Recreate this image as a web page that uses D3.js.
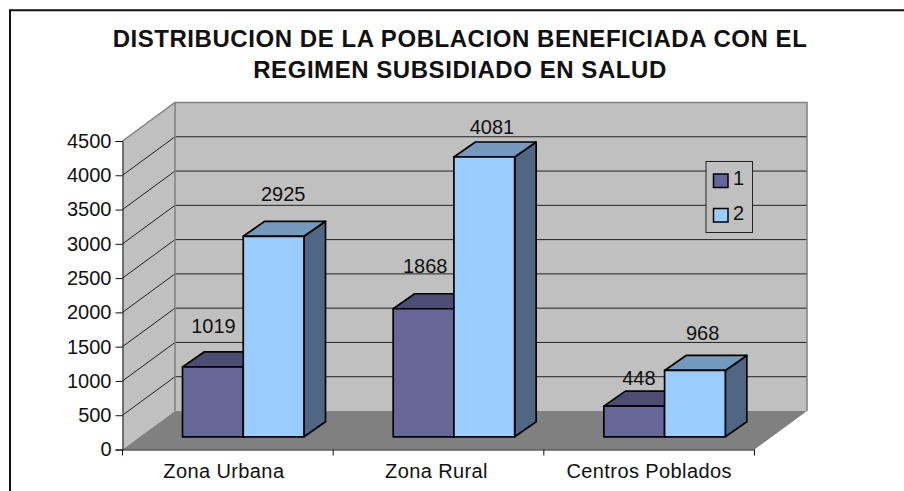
<!DOCTYPE html>
<html>
<head>
<meta charset="utf-8">
<script src="https://cdn.jsdelivr.net/npm/d3@7"></script>
<style>
    body { margin: 0; background: #fff; }
    text { font-family: "Liberation Sans", Arial, sans-serif; fill: #111; }
</style>
</head>
<body>
<div id="chart"></div>
<script>
var categories = ["Zona Urbana", "Zona Rural", "Centros Poblados"];
var seriesNames = ["1", "2"];
var series1 = [1019, 1868, 448];
var series2 = [2925, 4081, 968];
var yTicks = [0, 500, 1000, 1500, 2000, 2500, 3000, 3500, 4000, 4500];
var titleLines = ["DISTRIBUCION DE LA POBLACION BENEFICIADA CON EL", "REGIMEN SUBSIDIADO EN SALUD"];

var svg = d3.select("#chart").append("svg")
    .attr("width", 904)
    .attr("height", 491)
    .style("display", "block");

// outer frame, only left and top edges are inside the picture
svg.append("path")
    .attr("d", "M10,491V10.3H904")
    .attr("fill", "none")
    .attr("stroke", "#111")
    .attr("stroke-width", 2);

// scales
var x = d3.scaleBand().domain(categories).range([122.5, 754.5]);
var y = d3.scaleLinear().domain([0, 4500]).range([449.5, 141]);
var inner = d3.scaleBand().domain(seriesNames).range([0, 121.5]);

var wallDx = 52.5, wallDy = -38.5;   // depth of the floor
var barDx = 21.5, barDy = -15;       // depth of a bar
var barShiftX = 60, barShiftY = -12.7; // bars sit back from the front edge

function poly(points) {
    return "M" + points.map(p => p.join(",")).join("L") + "Z";
}

var wallColor = "#c0c0c0", wallEdge = "#808080";

// side wall
svg.append("path")
    .attr("d", poly([[x.range()[0], y(0)], [x.range()[0], y(4500)], [x.range()[0] + wallDx, y(4500) + wallDy], [x.range()[0] + wallDx, y(0) + wallDy]]))
    .attr("fill", wallColor);
// back wall
svg.append("rect")
    .attr("x", x.range()[0] + wallDx)
    .attr("y", y(4500) + wallDy)
    .attr("width", x.range()[1] - x.range()[0])
    .attr("height", y(0) - y(4500))
    .attr("fill", wallColor);
// floor
svg.append("path")
    .attr("d", poly([[x.range()[0], y(0)], [x.range()[1], y(0)], [x.range()[1] + wallDx, y(0) + wallDy], [x.range()[0] + wallDx, y(0) + wallDy]]))
    .attr("fill", "#808080");

// gridlines on both walls
yTicks.slice(1, -1).forEach(function(t) {
    svg.append("path")
        .attr("d", `M${x.range()[0]},${y(t)}L${x.range()[0] + wallDx},${y(t) + wallDy}H${x.range()[1] + wallDx}`)
        .attr("fill", "none")
        .attr("stroke", "#222")
        .attr("stroke-width", 1);
});

// wall edges
svg.append("path")
    .attr("d", `M${x.range()[0]},${y(4500)}L${x.range()[0] + wallDx},${y(4500) + wallDy}H${x.range()[1] + wallDx}V${y(0) + wallDy}`)
    .attr("fill", "none")
    .attr("stroke", wallEdge)
    .attr("stroke-width", 1.5);
svg.append("path")
    .attr("d", `M${x.range()[0] + wallDx},${y(4500) + wallDy}V${y(0) + wallDy}`)
    .attr("fill", "none")
    .attr("stroke", wallEdge)
    .attr("stroke-width", 1.5);

// axes
var bottomAxis = d3.axisBottom(x).tickSize(0).tickPadding(14);
var leftAxis = d3.axisLeft(y).tickValues(yTicks).tickFormat(d3.format("d")).tickSize(7).tickPadding(4);

var xAxisGroup = svg.append("g")
    .attr("transform", "translate(0,449.5)")
    .call(bottomAxis);
var xLabelNudge = [-4, -2, 0];
xAxisGroup.selectAll("text")
    .style("font-size", "20px")
    .style("letter-spacing", "0.4px")
    .attr("dy", "0.71em")
    .attr("dx", (d, i) => xLabelNudge[i]);
xAxisGroup.selectAll("path").attr("stroke", "#111");
// ticks go on the category edges, not centres
x.domain().forEach(function(c) {
    xAxisGroup.append("line").attr("x1", x(c)).attr("x2", x(c)).attr("y2", 6).attr("stroke", "#111");
});
xAxisGroup.append("line").attr("x1", x.range()[1]).attr("x2", x.range()[1]).attr("y2", 6).attr("stroke", "#111");

var yAxisGroup = svg.append("g")
    .attr("transform", "translate(122.5,0)")
    .call(leftAxis);
yAxisGroup.selectAll("text").style("font-size", "20px");
yAxisGroup.selectAll("path,line").attr("stroke", "#111");

// bars, back series first so the front faces overlap properly
var barData = [];
categories.forEach(function(c, i) {
    barData.push({cat: c, name: "1", value: series1[i], front: "#666699", top: "#4d4d73", side: "#4d4d73"});
    barData.push({cat: c, name: "2", value: series2[i], front: "#99ccff", top: "#7399bf", side: "#4f6783"});
});

var bars = svg.selectAll(".bar")
    .data(barData)
    .enter()
    .append("g")
    .attr("class", "bar");

function barBox(d) {
    var x0 = x(d.cat) + barShiftX + inner(d.name);
    var x1 = x0 + inner.bandwidth();
    var base = y(0) + barShiftY;
    var top = y(d.value) + barShiftY;
    return {x0: x0, x1: x1, base: base, top: top};
}

bars.append("path")
    .attr("d", d => { var b = barBox(d); return poly([[b.x1, b.base], [b.x1 + barDx, b.base + barDy], [b.x1 + barDx, b.top + barDy], [b.x1, b.top]]); })
    .attr("fill", d => d.side);
bars.append("path")
    .attr("d", d => { var b = barBox(d); return poly([[b.x0, b.top], [b.x0 + barDx, b.top + barDy], [b.x1 + barDx, b.top + barDy], [b.x1, b.top]]); })
    .attr("fill", d => d.top);
bars.append("rect")
    .attr("x", d => barBox(d).x0)
    .attr("y", d => barBox(d).top)
    .attr("width", inner.bandwidth())
    .attr("height", d => barBox(d).base - barBox(d).top)
    .attr("fill", d => d.front);
bars.selectAll("path,rect")
    .attr("stroke", "#000")
    .attr("stroke-width", 1.7)
    .attr("stroke-linejoin", "round");

// value labels were placed by hand in the original, so each one has its own nudge
var labelNudge = [[31, -34], [40, -35], [32, -36], [38, -23], [35, -21], [38, -30]];
svg.selectAll(".value")
    .data(barData)
    .enter()
    .append("text")
    .attr("class", "value")
    .attr("x", (d, i) => barBox(d).x0 + labelNudge[i][0])
    .attr("y", (d, i) => barBox(d).top + labelNudge[i][1])
    .attr("text-anchor", "middle")
    .style("font-size", "20px")
    .text(d => d.value);

// legend
var legend = svg.append("g").attr("transform", "translate(706,161.5)");
legend.append("rect")
    .attr("width", 46.5)
    .attr("height", 71)
    .attr("fill", wallColor)
    .attr("stroke", "#222");
seriesNames.forEach(function(n, i) {
    legend.append("rect")
        .attr("x", 7.5)
        .attr("y", 12.5 + i * 34.5)
        .attr("width", 14.5)
        .attr("height", 13.5)
        .attr("fill", i == 0 ? "#666699" : "#99ccff")
        .attr("stroke", "#000")
        .attr("stroke-width", 1.5);
    legend.append("text")
        .attr("x", 27)
        .attr("y", 23.5 + i * 35)
        .style("font-size", "20px")
        .text(n);
});

// title
svg.selectAll(".title")
    .data(titleLines)
    .enter()
    .append("text")
    .attr("class", "title")
    .attr("x", 460)
    .attr("y", (d, i) => 46.7 + i * 31.6)
    .attr("text-anchor", "middle")
    .style("font-size", "24px")
    .style("letter-spacing", "0.55px")
    .style("font-weight", "bold")
    .text(d => d);
</script>
</body>
</html>
